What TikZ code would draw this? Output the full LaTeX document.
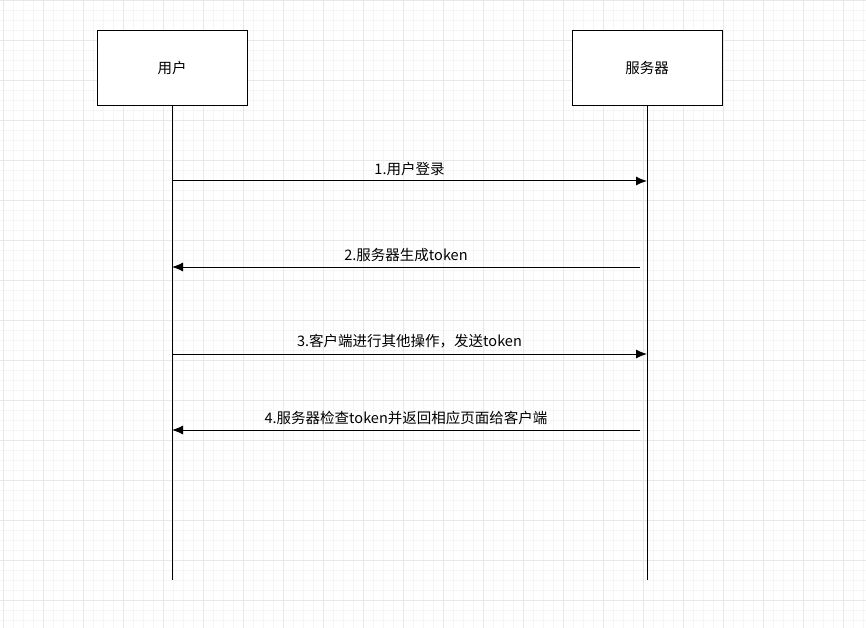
\documentclass[tikz,border=0pt]{standalone}
\usepackage{fontspec}
\setmainfont{Noto Sans CJK SC}
\usetikzlibrary{positioning,arrows.meta}
\tikzset{
	actor/.style={draw=black,fill=white,minimum width=150pt,minimum height=75pt,inner sep=0pt,font=\fontsize{14.5pt}{17pt}\selectfont},
	msg/.style={-{Latex[length=11pt,width=9pt]},line width=1pt},
	msgtext/.style={above,font=\fontsize{14.5pt}{17pt}\selectfont,inner sep=2pt,yshift=3pt}
}
\begin{document}
\begin{tikzpicture}[x=1pt,y=-1pt]
	\useasboundingbox (0,0) rectangle (866,628);
	% grid
	\draw[black!4,line width=0.6pt,shift={(3,0)}] (-3,0) grid[step=10pt] (866,628);
	\draw[black!9,line width=0.6pt,shift={(3,0)}] (-3,0) grid[step=40pt] (866,628);
	
	\node[actor] (user) at (172,67.5) {用户};
	\node[actor] (server) at (647,67.5) {服务器};
	\coordinate (userEnd) at (172,580);
	\coordinate (serverEnd) at (647,580);
	\draw[line width=1pt] (user.south) -- (userEnd);
	\draw[line width=1pt] (server.south) -- (serverEnd);
	
	\coordinate (u1) at (172,181); \coordinate (s1) at (647,181);
	\coordinate (u2) at (172,267); \coordinate (s2) at (640,267);
	\coordinate (u3) at (172,354); \coordinate (s3) at (647,354);
	\coordinate (u4) at (172,430); \coordinate (s4) at (640,430);
	
	\draw[msg] (u1) -- node[msgtext] {1.用户登录} (s1);
	\draw[msg] (s2) -- node[msgtext] {2.服务器生成token} (u2);
	\draw[msg] (u3) -- node[msgtext] {3.客户端进行其他操作，发送token} (s3);
	\draw[msg] (s4) -- node[msgtext] {4.服务器检查token并返回相应页面给客户端} (u4);
\end{tikzpicture}
\end{document}
